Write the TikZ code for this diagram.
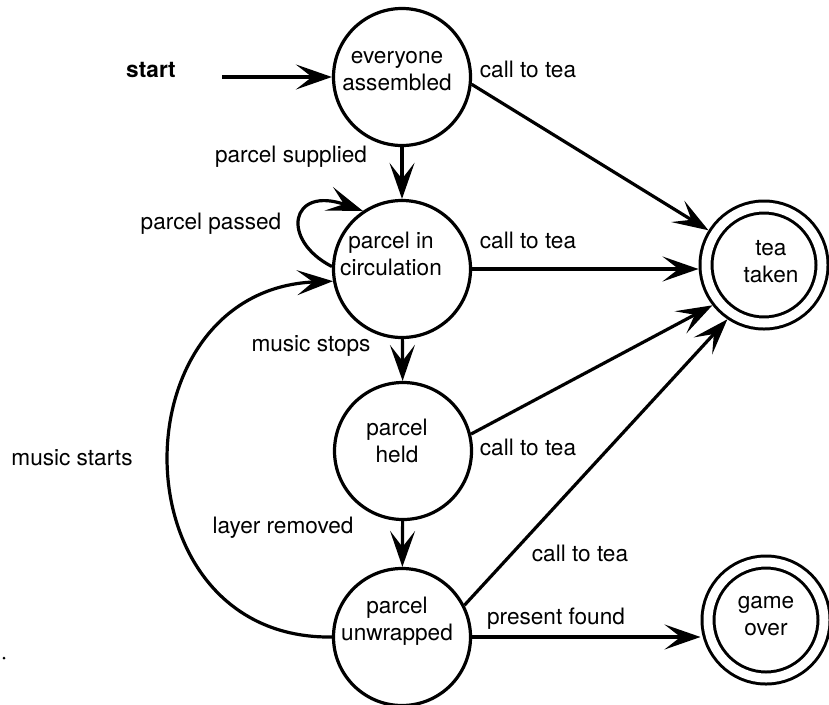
\documentclass[tikz,border=0pt]{standalone}
\usepackage{fontspec}
\setmainfont{TeX Gyre Heros}
\usetikzlibrary{arrows.meta}
\begin{document}
\begin{tikzpicture}[x=1pt,y=-1pt,
  every node/.style={font=\fontsize{22.6pt}{27pt}\selectfont},
  state/.style={circle,draw,line width=3.2pt,minimum size=137pt,inner sep=0pt},
  accept/.style={circle,draw,line width=3pt,double,double distance=9pt,minimum size=116pt,inner sep=0pt,outer sep=7.5pt},
  txt/.style={align=center,inner sep=0pt},
  lbl/.style={inner sep=0pt,text height=16pt,text depth=5pt},
  edge/.style={line width=3.2pt,-{Stealth[length=36pt,width=25pt,inset=16pt]}},
]
\useasboundingbox (0,0) rectangle (829,704);

% states
\node[state,label={[name=evt,txt,xshift=-5pt,yshift=5pt]center:{\strut everyone\\\strut assembled}}] (ev) at (402,77) {};
\node[state,label={[name=circt,txt,xshift=-11pt,yshift=12pt]center:{\strut parcel in\\\strut circulation}}] (circ) at (402,269) {};
\node[state,label={[name=heldt,txt,xshift=-6pt,yshift=7.5pt]center:{\strut parcel\\\strut held}}] (held) at (403,451) {};
\node[state,label={[name=unwt,txt,xshift=-5pt,yshift=15pt]center:{\strut parcel\\\strut unwrapped}}] (unw) at (402,637) {};
\node[accept,label={[name=teat,txt,xshift=7pt,yshift=1pt]center:{\strut tea\\\strut taken}}] (tea) at (764,265) {};
\node[accept,label={[name=gamet,txt,yshift=3pt]center:{\strut game\\\strut over}}] (game) at (766,620) {};

% labels
\node[lbl,font=\fontsize{22.6pt}{27pt}\selectfont\bfseries] (startl) at (151,72) {start};
\node[lbl] (l1) at (528,72) {call to tea};
\node[lbl] (l2) at (291,157) {parcel supplied};
\node[lbl] (l3) at (211,224) {parcel passed};
\node[lbl] (l4) at (528,243) {call to tea};
\node[lbl] (l5) at (311,346) {music stops};
\node[lbl] (l6) at (72,460) {music starts};
\node[lbl] (l7) at (528,450) {call to tea};
\node[lbl] (l8) at (283,528) {layer removed};
\node[lbl] (l9) at (580,556) {call to tea};
\node[lbl] (l10) at (556,619) {present found};

% connectors
\coordinate (s) at (222,77);
\draw[edge] (s) -- (ev);
\draw[edge] (ev) -- (circ);
\draw[edge] (circ) -- (held);
\draw[edge] (held) -- (unw);
\draw[edge] (ev.-6) -- (tea.148);
\draw[edge] (circ.east) -- (circ.east -| tea.west);
\draw[edge] (held.14) -- (tea.218);
\draw[edge] (unw.27) -- (tea.236);
\draw[edge] (unw.east) -- (unw.east -| game.west);
\draw[edge] (circ.178) .. controls (280,240) and (290,185) .. (circ.124);
\draw[edge] (unw.west) .. controls (115,640) and (115,290) .. (circ.190);

% speck
\fill (4,658) circle (1.5pt);
\end{tikzpicture}
\end{document}
